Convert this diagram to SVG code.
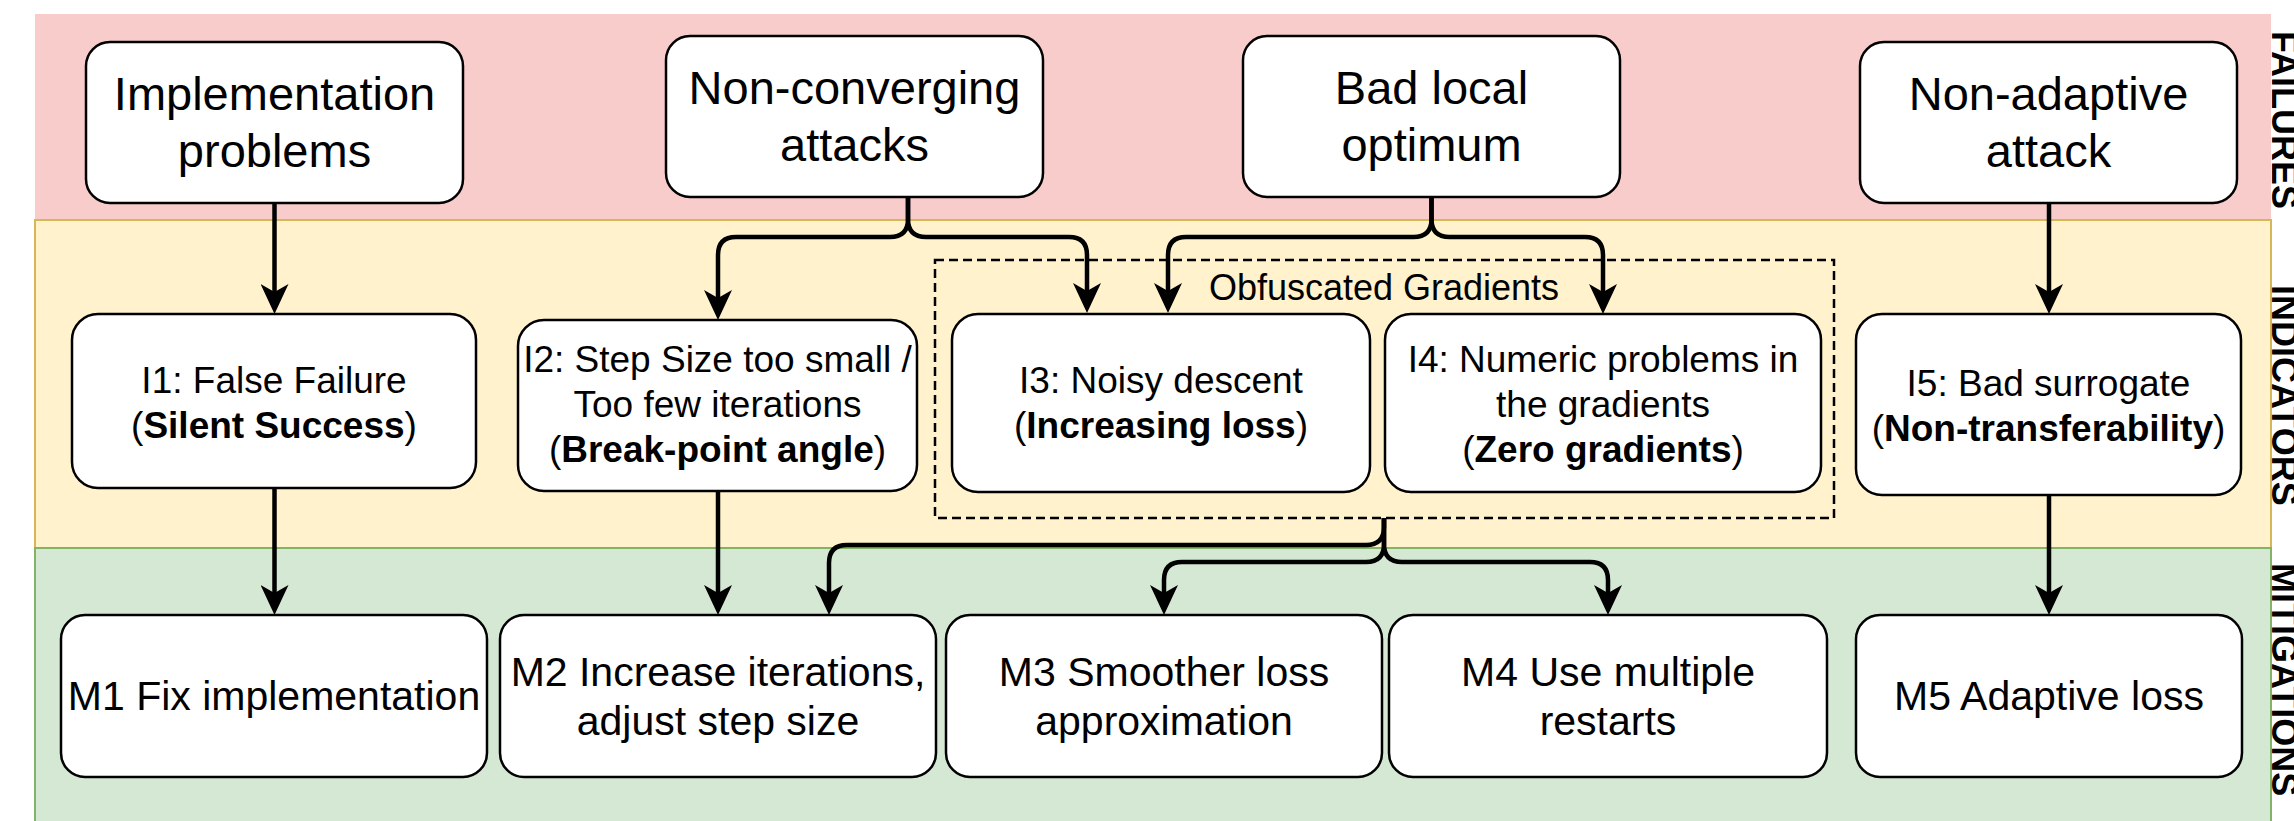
<svg xmlns="http://www.w3.org/2000/svg" width="2294" height="821" viewBox="0 0 2294 821">
  <defs>
    <!-- notched "classic" arrowhead; tip sits 20px past the path end -->
    <marker id="arrow" viewBox="0 0 30 28" refX="10" refY="14" markerWidth="30" markerHeight="28" markerUnits="userSpaceOnUse" orient="auto">
      <path d="M0,0 L30,14 L0,28 L8,14 Z" fill="#000"/>
    </marker>
    <style>
      .box { fill: #fff; stroke: #000; stroke-width: 2.5; }
      .edge { fill: none; stroke: #000; stroke-width: 4.5; marker-end: url(#arrow); }
      .t { font-family: "Liberation Sans", Arial, sans-serif; fill: #000; text-anchor: middle; }
      .f { font-size: 47px; }
      .i { font-size: 37px; }
      .m { font-size: 41px; }
      .b { font-weight: bold; }
      .lane { font-family: "Liberation Sans", Arial, sans-serif; font-size: 36px; font-weight: bold; fill: #000; }
    </style>
  </defs>

  <rect width="2294" height="821" fill="#fff"/>

  <!-- swimlane bands -->
  <g id="lanes">
    <rect x="35" y="14" width="2236" height="206" fill="#f8cccb"/>
    <rect x="35" y="220" width="2236" height="328" fill="#fff2cc" stroke="#d6b656" stroke-width="2"/>
    <rect x="35" y="548" width="2236" height="280" fill="#d5e8d4" stroke="#82b366" stroke-width="2"/>
    <text class="lane" x="2272" y="31" transform="rotate(90 2272 31)">FAILURES</text>
    <text class="lane" x="2272" y="285" transform="rotate(90 2272 285)">INDICATORS</text>
    <text class="lane" x="2272" y="563" transform="rotate(90 2272 563)">MITIGATIONS</text>
  </g>

  <!-- dashed container -->
  <g id="obfuscated-gradients">
    <rect x="935" y="260" width="899" height="258" fill="none" stroke="#000" stroke-width="2.5" stroke-dasharray="9 5"/>
    <text class="t" x="1384" y="300" font-size="36">Obfuscated Gradients</text>
  </g>

  <!-- connectors -->
  <g id="connectors">
    <path class="edge" d="M274.5,203 V294"/>
    <path class="edge" d="M274.5,488 V595"/>
    <path class="edge" d="M908,197 V219 Q908,237 890,237 H736 Q718,237 718,255 V300"/>
    <path class="edge" d="M908,197 V219 Q908,237 926,237 H1069 Q1087,237 1087,255 V293"/>
    <path class="edge" d="M1431.5,197 V219 Q1431.5,237 1413.5,237 H1186 Q1168,237 1168,255 V293"/>
    <path class="edge" d="M1431.5,197 V219 Q1431.5,237 1449.5,237 H1585 Q1603,237 1603,255 V294"/>
    <path class="edge" d="M718,491 V595"/>
    <path class="edge" d="M2049,203 V294"/>
    <path class="edge" d="M2049,495 V595"/>
    <path class="edge" d="M1384,518 V527 Q1384,545 1366,545 H847 Q829,545 829,563 V595"/>
    <path class="edge" d="M1384,518 V544 Q1384,562 1366,562 H1182 Q1164,562 1164,580 V595"/>
    <path class="edge" d="M1384,518 V544 Q1384,562 1402,562 H1590 Q1608,562 1608,580 V595"/>
  </g>

  <!-- failures -->
  <g id="implementation-problems">
    <rect class="box" x="86" y="42" width="377" height="161" rx="24"/>
    <text class="t f" x="274.5" y="110">Implementation</text>
    <text class="t f" x="274.5" y="167">problems</text>
  </g>
  <g id="non-converging-attacks">
    <rect class="box" x="666" y="36" width="377" height="161" rx="24"/>
    <text class="t f" x="854.5" y="104">Non-converging</text>
    <text class="t f" x="854.5" y="161">attacks</text>
  </g>
  <g id="bad-local-optimum">
    <rect class="box" x="1243" y="36" width="377" height="161" rx="24"/>
    <text class="t f" x="1431.5" y="104">Bad local</text>
    <text class="t f" x="1431.5" y="161">optimum</text>
  </g>
  <g id="non-adaptive-attack">
    <rect class="box" x="1860" y="42" width="377" height="161" rx="24"/>
    <text class="t f" x="2048.5" y="110">Non-adaptive</text>
    <text class="t f" x="2048.5" y="167">attack</text>
  </g>

  <!-- indicators -->
  <g id="i1">
    <rect class="box" x="72" y="314" width="404" height="174" rx="26"/>
    <text class="t i" x="274" y="393">I1: False Failure</text>
    <text class="t i" x="274" y="438">(<tspan class="b">Silent Success</tspan>)</text>
  </g>
  <g id="i2">
    <rect class="box" x="518" y="320" width="399" height="171" rx="26"/>
    <text class="t i" x="717.5" y="372">I2: Step Size too small /</text>
    <text class="t i" x="717.5" y="417">Too few iterations</text>
    <text class="t i" x="717.5" y="462">(<tspan class="b">Break-point angle</tspan>)</text>
  </g>
  <g id="i3">
    <rect class="box" x="952" y="314" width="418" height="178" rx="26"/>
    <text class="t i" x="1161" y="393">I3: Noisy descent</text>
    <text class="t i" x="1161" y="438">(<tspan class="b">Increasing loss</tspan>)</text>
  </g>
  <g id="i4">
    <rect class="box" x="1385" y="314" width="436" height="178" rx="26"/>
    <text class="t i" x="1603" y="372">I4: Numeric problems in</text>
    <text class="t i" x="1603" y="417">the gradients</text>
    <text class="t i" x="1603" y="462">(<tspan class="b">Zero gradients</tspan>)</text>
  </g>
  <g id="i5">
    <rect class="box" x="1856" y="314" width="385" height="181" rx="26"/>
    <text class="t i" x="2048.5" y="396">I5: Bad surrogate</text>
    <text class="t i" x="2048.5" y="441">(<tspan class="b">Non-transferability</tspan>)</text>
  </g>

  <!-- mitigations -->
  <g id="m1">
    <rect class="box" x="61" y="615" width="426" height="162" rx="24"/>
    <text class="t m" x="274" y="710">M1 Fix implementation</text>
  </g>
  <g id="m2">
    <rect class="box" x="500" y="615" width="436" height="162" rx="24"/>
    <text class="t m" x="718" y="686">M2 Increase iterations,</text>
    <text class="t m" x="718" y="735">adjust step size</text>
  </g>
  <g id="m3">
    <rect class="box" x="946" y="615" width="436" height="162" rx="24"/>
    <text class="t m" x="1164" y="686">M3 Smoother loss</text>
    <text class="t m" x="1164" y="735">approximation</text>
  </g>
  <g id="m4">
    <rect class="box" x="1389" y="615" width="438" height="162" rx="24"/>
    <text class="t m" x="1608" y="686">M4 Use multiple</text>
    <text class="t m" x="1608" y="735">restarts</text>
  </g>
  <g id="m5">
    <rect class="box" x="1856" y="615" width="386" height="162" rx="24"/>
    <text class="t m" x="2049" y="710">M5 Adaptive loss</text>
  </g>
</svg>
